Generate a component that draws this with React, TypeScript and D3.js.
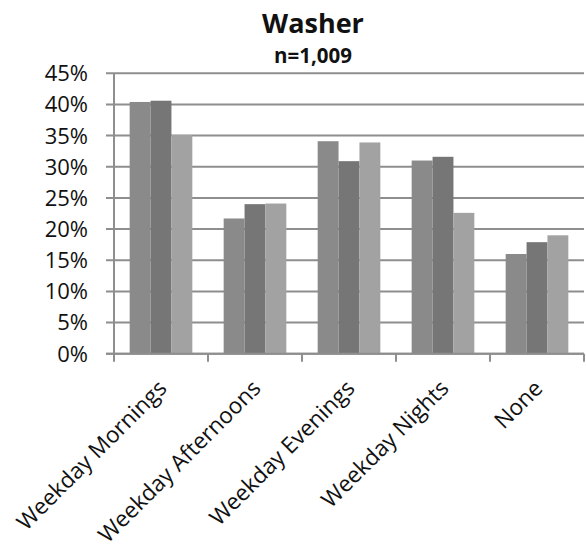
import React from "react";
import * as d3 from "d3";

const categories = ["Weekday Mornings", "Weekday Afternoons", "Weekday Evenings", "Weekday Nights", "None"];
const series1 = [40.4, 21.7, 34.1, 31.0, 16.0];
const series2 = [40.6, 24.0, 30.9, 31.6, 17.9];
const series3 = [35.1, 24.1, 33.9, 22.6, 19.0];
const yTicks = [0, 5, 10, 15, 20, 25, 30, 35, 40, 45];
const seriesColors = ["#8a8a8a", "#767676", "#a2a2a2"];
const title = "Washer";
const subtitle = "n=1,009";

const W = 586;
const H = 552;
const M = { left: 114, right: 2, top: 73.3, bottom: 198.3 };
const FONT = "'Open Sans', 'DejaVu Sans', sans-serif";

export default function App() {
  const allSeries = [series1, series2, series3];
  const x0 = d3.scaleBand<string>().domain(categories).range([M.left, W - M.right]).padding(0);
  const bw = x0.bandwidth();
  const x1 = d3.scaleBand<number>().domain([0, 1, 2]).range([bw / 6, (bw * 5) / 6]).padding(0);
  const y = d3.scaleLinear().domain([0, 45]).range([H - M.bottom, M.top]);
  const y0 = y(0);

  return (
    <svg width={W} height={H} style={{ position: "absolute", left: 0, top: 0, background: "#fff" }}>
      <text x={313} y={33} textAnchor="middle" fontFamily={FONT} fontWeight="bold" fontSize={27} fill="#111">
        {title}
      </text>
      <text x={313} y={63} textAnchor="middle" fontFamily={FONT} fontWeight="bold" fontSize={20.5} fill="#111">
        {subtitle}
      </text>
      {yTicks.map((t) => (
        <g key={t}>
          <line x1={M.left - 8} x2={W - M.right} y1={y(t)} y2={y(t)} stroke="#8e8e8e" strokeWidth={2} />
          <text x={88} y={y(t)} dy="0.36em" textAnchor="end" fontFamily={FONT} fontSize={22} fill="#111">
            {t}%
          </text>
        </g>
      ))}
      {categories.map((c, ci) =>
        allSeries.map((s, si) => (
          <rect
            key={c + si}
            x={(x0(c) as number) + (x1(si) as number)}
            y={y(s[ci])}
            width={x1.bandwidth()}
            height={y0 - y(s[ci])}
            fill={seriesColors[si]}
          />
        ))
      )}
      <line x1={M.left} x2={M.left} y1={M.top} y2={y0 + 1} stroke="#8e8e8e" strokeWidth={2} />
      <line x1={M.left - 8} x2={W - M.right} y1={y0} y2={y0} stroke="#8e8e8e" strokeWidth={2} />
      {d3.range(categories.length + 1).map((i) => {
        const xx = M.left + i * bw;
        return <line key={i} x1={xx} x2={xx} y1={y0} y2={y0 + 8} stroke="#8e8e8e" strokeWidth={2} />;
      })}
      {categories.map((c) => {
        const cx = (x0(c) as number) + bw / 2 + 7;
        const cy = y0 + 36;
        return (
          <text
            key={c}
            x={cx}
            y={cy}
            textAnchor="end"
            transform={`rotate(-45, ${cx}, ${cy})`}
            fontFamily={FONT}
            fontSize={22.5}
            fill="#111"
          >
            {c}
          </text>
        );
      })}
    </svg>
  );
}
